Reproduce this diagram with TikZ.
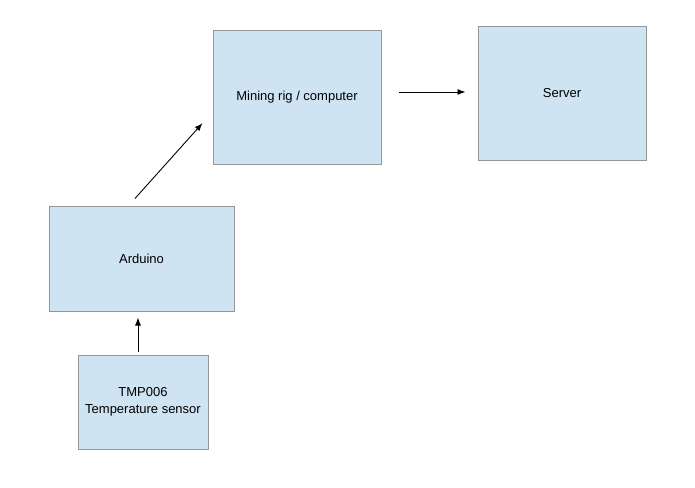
\documentclass[tikz,border=0pt]{standalone}
\usepackage{fontspec}
\setmainfont{Liberation Sans}
\usepackage{tikz}
\usetikzlibrary{arrows.meta}
\definecolor{boxblue}{RGB}{207,228,242}
\definecolor{boxedge}{RGB}{150,150,150}

\begin{document}
\begin{tikzpicture}[x=1pt,y=-1pt]
	\tikzstyle{block} = [draw=boxedge,fill=boxblue,line width=1pt,align=center,inner sep=0pt,font=\fontsize{13}{17}\selectfont]
	\tikzstyle{conn} = [line width=0.9pt,-{Latex[length=8pt,width=6pt]}]

	% Fix the page size
	\useasboundingbox (0,0) rectangle (695,487);

	% Draw the boxes
	\node[block,minimum width=168pt,minimum height=133pt] (rig) at (297,97.5) {Mining rig / computer};
	\node[block,minimum width=168pt,minimum height=133pt] (server) at (562,93.5) {Server};
	\node[block,minimum width=185pt,minimum height=105pt] (arduino) at (141.5,258.5) {Arduino};
	\node[block,minimum width=130pt,minimum height=94pt] (sensor) at (143,402) {TMP006\\Temperature sensor};

	% Draw the arrows
	\draw[conn,shorten <=3pt,shorten >=6pt] ([xshift=-5pt]sensor.north) -- ([xshift=-5pt]sensor.north |- arduino.south);
	\draw[conn,shorten <=9.4pt,shorten >=14.9pt] ([xshift=-12.8pt]arduino.north) -- ([yshift=-14.5pt]rig.west);
	\draw[conn,shorten <=17pt,shorten >=12pt] ([yshift=5.5pt]rig.east) -- ([yshift=5.5pt]rig.east -| server.west);
\end{tikzpicture}
\end{document}
